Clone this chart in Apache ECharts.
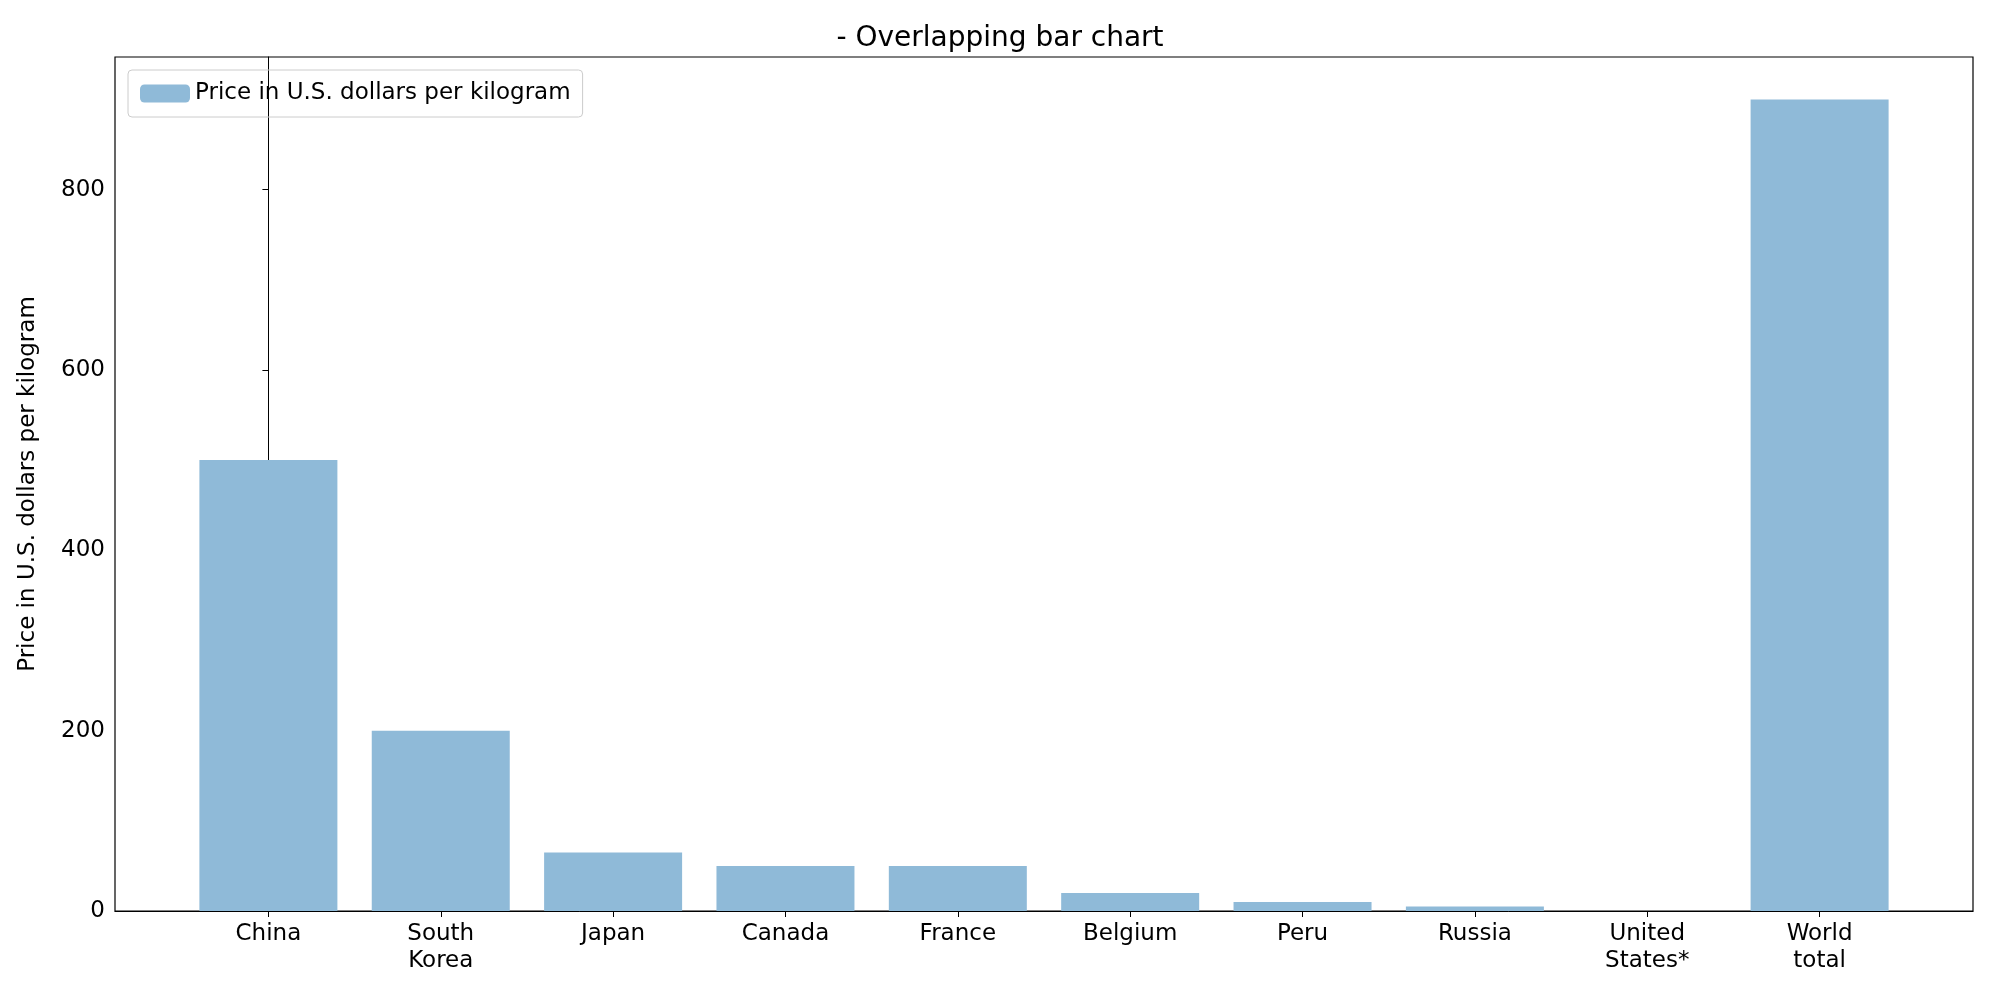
<!DOCTYPE html>
<html>
<head>
<meta charset="utf-8">
<script src="https://cdn.jsdelivr.net/npm/echarts@6/dist/echarts.min.js"></script>
<style>html,body{margin:0;padding:0;background:#fff}#main{width:2000px;height:1000px}</style>
</head>
<body>
<div id="main"></div>
<script>
// data
const countries = ['China', 'South\nKorea', 'Japan', 'Canada', 'France', 'Belgium', 'Peru', 'Russia', 'United\nStates*', 'World\ntotal'];
const prices = [500, 200, 65, 50, 50, 20, 10, 5, 0, 900];
const yTicks = [0, 200, 400, 600, 800];

const chart = echarts.init(document.getElementById('main'));
const positions = countries.map((c, i) => i);
const font = 'DejaVu Sans';

const option = {
    animation: false,
    textStyle: {fontFamily: font},
    title: {
        text: '- Overlapping bar chart',
        left: 'center', top: 20,
        textStyle: {fontSize: 28, fontWeight: 'normal', color: '#000', fontFamily: font}
    },
    legend: {
        left: 128, top: 70,
        itemWidth: 50, itemHeight: 18,
        padding: [12, 12],
        borderColor: '#ccc', borderWidth: 1, borderRadius: 4,
        textStyle: {fontSize: 23, color: '#000', fontFamily: font}
    },
    grid: {left: 115, right: 27, top: 57, bottom: 89, show: true, borderColor: '#000', borderWidth: 1.2},
    xAxis: {
        type: 'value', min: -0.89, max: 9.89,
        splitLine: {show: false},
        axisLine: {show: true, lineStyle: {color: '#000'}},
        axisTick: {show: true, customValues: positions, length: 6, lineStyle: {color: '#000'}},
        axisLabel: {
            customValues: positions, fontSize: 23, color: '#000', lineHeight: 27, margin: 10,
            formatter: v => countries[Math.round(v)]
        }
    },
    yAxis: {
        type: 'value', min: 0, max: 947, interval: 200,
        name: 'Price in U.S. dollars per kilogram',
        nameLocation: 'middle', nameGap: 75,
        nameTextStyle: {fontSize: 23, color: '#000', fontFamily: font},
        splitLine: {show: false},
        axisLine: {show: true, lineStyle: {color: '#000'}},
        axisTick: {show: true, customValues: yTicks, length: 6, lineStyle: {color: '#000'}},
        axisLabel: {customValues: yTicks, fontSize: 23, color: '#000', margin: 10}
    },
    series: [{
        name: 'Price in U.S. dollars per kilogram',
        type: 'bar',
        barWidth: 138,
        itemStyle: {color: '#8fbad8'},
        data: prices.map((v, i) => [i, v])
    }]
};
chart.setOption(option);
</script>
</body>
</html>
